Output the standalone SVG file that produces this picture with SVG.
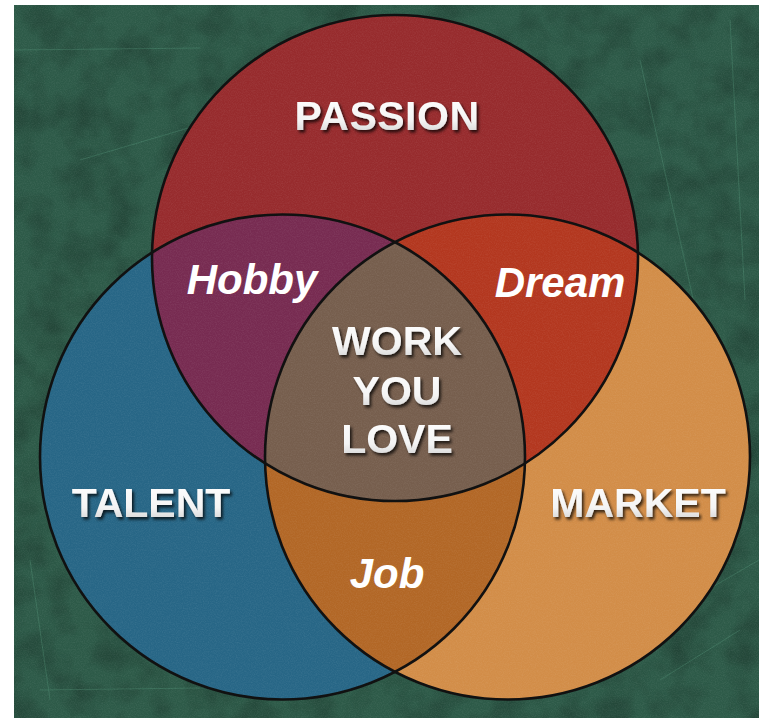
<svg xmlns="http://www.w3.org/2000/svg" width="759" height="718" viewBox="0 0 759 718">
  <style>
    .big { font-family: "Liberation Sans", Arial, sans-serif; font-weight: bold; font-size: 41px; fill: url(#bevel); text-anchor: middle; filter: url(#shadow); }
    .sub { font-family: "Liberation Sans", Arial, sans-serif; font-weight: bold; font-style: italic; font-size: 42px; fill: #ffffff; text-anchor: middle; }
    .edge { fill: none; stroke: #111111; stroke-width: 2.6; }
  </style>
  <defs>
    <linearGradient id="bevel" x1="0" y1="0" x2="0" y2="1">
      <stop offset="0" stop-color="#ffffff"/>
      <stop offset="0.6" stop-color="#f4f4f4"/>
      <stop offset="1" stop-color="#c9c9c9"/>
    </linearGradient>
    <filter id="shadow" x="-10%" y="-20%" width="120%" height="150%">
      <feDropShadow dx="2" dy="2.5" stdDeviation="1.4" flood-color="#000000" flood-opacity="0.75"/>
    </filter>
    <filter id="noise" x="0" y="0" width="100%" height="100%">
      <feTurbulence type="fractalNoise" baseFrequency="0.85" numOctaves="2" seed="7"/>
      <feColorMatrix type="matrix" values="0 0 0 0 1  0 0 0 0 1  0 0 0 0 1  0.6 0 0 0 -0.22"/>
    </filter>
    <filter id="dark" x="0" y="0" width="100%" height="100%">
      <feTurbulence type="fractalNoise" baseFrequency="0.03" numOctaves="3" seed="2"/>
      <feColorMatrix type="matrix" values="0 0 0 0 0  0 0 0 0 0  0 0 0 0 0  0 0.9 0 0 -0.35"/>
    </filter>
    <clipPath id="clipP"><circle cx="395" cy="258" r="243"/></clipPath>
    <clipPath id="clipT"><circle cx="282.5" cy="457" r="242.5"/></clipPath>
    <clipPath id="clipM"><circle cx="507.5" cy="457" r="242.5"/></clipPath>
  </defs>

  <rect x="0" y="0" width="759" height="718" fill="#ffffff"/>
  <rect id="board" x="14" y="5" width="745" height="713" fill="#2d5a48"/>
  <rect x="14" y="5" width="745" height="713" filter="url(#dark)" opacity="0.5"/>
  <g id="scratches" stroke="#5fa889" stroke-width="0.8" opacity="0.35" fill="none">
    <path d="M14 50 L200 48"/>
    <path d="M80 160 L300 95"/>
    <path d="M40 690 L200 688"/>
    <path d="M640 60 L700 330"/>
    <path d="M690 600 L759 560"/>
    <path d="M660 680 L740 630"/>
    <path d="M730 20 L745 300"/>
    <path d="M30 560 L50 700"/>
  </g>

  <g id="talent"><circle cx="282.5" cy="457" r="242.5" fill="#276686"/></g>
  <g id="market"><circle cx="507.5" cy="457" r="242.5" fill="#d28d48"/></g>
  <g id="passion"><circle cx="395" cy="258" r="243" fill="#972b2d"/></g>
  <g id="job"><circle cx="282.5" cy="457" r="242.5" fill="#b26726" clip-path="url(#clipM)"/></g>
  <g id="hobby"><circle cx="395" cy="258" r="243" fill="#772b51" clip-path="url(#clipT)"/></g>
  <g id="dream"><circle cx="395" cy="258" r="243" fill="#b3371f" clip-path="url(#clipM)"/></g>
  <g id="work" clip-path="url(#clipT)"><circle cx="395" cy="258" r="243" fill="#765e4d" clip-path="url(#clipM)"/></g>

  <rect x="14" y="5" width="745" height="713" filter="url(#noise)" opacity="0.22"/>

  <g id="connectors">
    <circle class="edge" cx="282.5" cy="457" r="242.5"/>
    <circle class="edge" cx="507.5" cy="457" r="242.5"/>
    <circle class="edge" cx="395" cy="258" r="243"/>
  </g>

  <g id="labels">
    <text class="big" x="387" y="130" letter-spacing="0.5">PASSION</text>
    <text class="sub" x="252" y="294">Hobby</text>
    <text class="sub" x="560" y="297">Dream</text>
    <text class="big" x="397" y="355">WORK</text>
    <text class="big" x="397" y="405">YOU</text>
    <text class="big" x="397" y="453">LOVE</text>
    <text class="big" x="151" y="517">TALENT</text>
    <text class="big" x="638" y="517">MARKET</text>
    <text class="sub" x="387" y="588">Job</text>
  </g>
</svg>
